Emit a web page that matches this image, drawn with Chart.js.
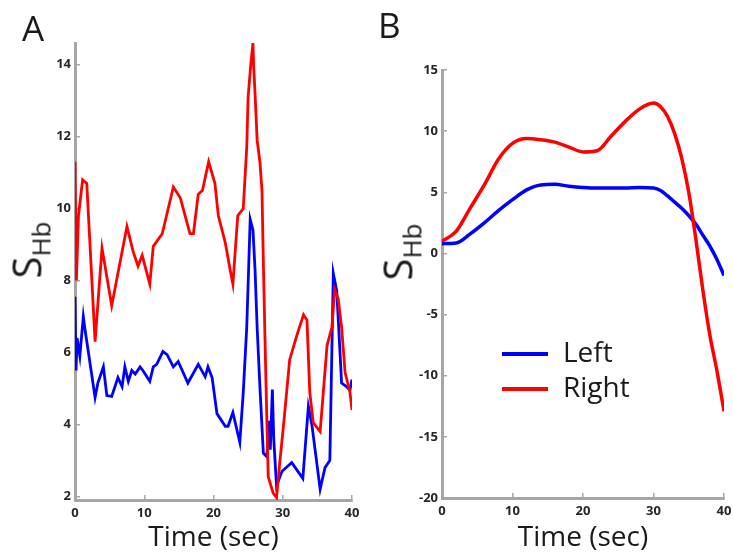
<!DOCTYPE html>
<html>
<head>
<meta charset="utf-8">
<script src="https://cdn.jsdelivr.net/npm/chart.js@4"></script>
<style>
  body { margin: 0; background: #fff; }
  #wrap { position: relative; width: 733px; height: 557px; overflow: hidden; font-family: "Open Sans", sans-serif; color: #1a1a1a; }
  .panel { position: absolute; top: 0; height: 557px; }
  .tag { position: absolute; font-size: 35px; line-height: 1; }
  .ylab { position: absolute; transform: translate(-50%, -50%) rotate(-90deg); white-space: nowrap; font-size: 40px; line-height: 1; }
  .ylab sub { font-size: 26px; vertical-align: -0.35em; }
</style>
</head>
<body>
<div id="wrap">
  <div class="panel" style="left:0; width:366px;"><canvas id="chartA"></canvas></div>
  <div class="panel" style="left:366px; width:367px;"><canvas id="chartB"></canvas></div>
  <div class="tag" style="left:22px; top:10px;">A</div>
  <div class="tag" style="left:378px; top:7px;">B</div>
  <div class="ylab" style="left:30px; top:250px;">S<sub>Hb</sub></div>
  <div class="ylab" style="left:401px; top:252px;">S<sub>Hb</sub></div>
</div>
<script>
// Panel A: raw traces (time in sec, irregular sampling)
const timeLeftA = [0, 0.15, 0.3, 0.7, 1.2, 1.4, 2.9, 3.3, 4.1, 4.6, 5.3, 6.2, 6.8, 7.2, 7.7, 8.2, 8.7, 9.4, 9.8,
  10.8, 11.3, 11.8, 12.7, 13.3, 14.2, 14.9, 16.3, 17.8, 18.8, 19.2, 19.8, 20.5, 21.7, 22.1, 22.8, 23.8, 24.3,
  24.8, 25.3, 25.7, 26.0, 26.3, 26.7, 27.2, 27.7, 28.0, 28.2, 28.5, 28.7, 29.1, 29.9, 31.3, 32.9, 33.7, 34.2,
  35.4, 36.1, 36.8, 37.3, 37.8, 38.5, 39.2, 39.7, 40.0];
const leftA = [7.55, 5.5, 6.4, 5.9, 7.0, 6.7, 4.75, 5.15, 5.6, 4.8, 4.78, 5.3, 5.05, 5.6, 5.2, 5.5, 5.4, 5.6, 5.5,
  5.2, 5.6, 5.67, 6.03, 5.94, 5.6, 5.75, 5.15, 5.67, 5.33, 5.6, 5.3, 4.3, 3.95, 3.95, 4.33, 3.5, 4.9,
  6.7, 9.7, 9.4, 8.3, 6.7, 5.05, 3.2, 3.1, 4.1, 3.3, 4.97, 3.6, 2.3, 2.7, 2.94, 2.5, 4.5, 4.0,
  2.2, 2.8, 3.0, 8.2, 7.7, 5.15, 5.05, 4.95, 5.25];

const timeRightA = [0, 0.2, 0.5, 1.1, 1.7, 2.9, 3.9, 5.3, 7.5, 8.4, 9.1, 9.7, 10.8, 11.3, 12.6, 14.2, 15.2, 16.6,
  17.1, 17.8, 18.4, 19.3, 20.2, 20.7, 21.7, 22.4, 22.8, 23.5, 24.3, 24.5, 24.8, 25.0, 25.4, 25.7, 25.8, 26.0,
  26.3, 26.7, 27.0, 27.2, 27.5, 27.9, 28.6, 29.1, 29.6, 30.1, 31.0, 32.0, 33.0, 33.5, 33.9, 34.4, 35.4, 36.4,
  37.1, 37.5, 38.0, 38.5, 39.0, 39.7, 40.0];
const rightA = [11.3, 8.0, 9.8, 10.8, 10.7, 6.3, 8.9, 7.3, 9.5, 8.8, 8.4, 8.7, 7.9, 8.95, 9.3, 10.6, 10.3, 9.3,
  9.3, 10.4, 10.5, 11.3, 10.7, 9.8, 9.05, 8.3, 7.9, 9.8, 10.0, 10.7, 11.7, 13.1, 14.05, 14.6, 13.95, 13.2,
  11.9, 11.3, 10.5, 8.5, 5.8, 2.55, 2.1, 1.97, 3.0, 3.95, 5.8, 6.45, 7.05, 6.9, 4.9, 4.05, 3.8, 6.2,
  6.7, 7.75, 7.5, 6.7, 5.45, 4.9, 4.4];

// Panel B: averaged responses
const timeB = [0, 2, 4, 6, 8, 10, 12, 14, 16, 18, 20, 22, 24, 26, 28, 30, 31, 32, 33, 34, 35, 36, 37, 38, 39, 40];
const leftB = [0.8, 0.85, 1.6, 2.5, 3.5, 4.4, 5.2, 5.6, 5.65, 5.5, 5.4, 5.35, 5.35, 5.35, 5.4, 5.35, 5.15, 4.7,
  4.2, 3.7, 3.1, 2.4, 1.5, 0.6, -0.5, -1.8];
const rightB = [1.0, 1.8, 3.7, 5.6, 7.7, 9.0, 9.4, 9.3, 9.1, 8.7, 8.3, 8.4, 9.6, 10.8, 11.8, 12.3, 12.0, 11.2,
  9.8, 7.8, 5.0, 1.2, -3.0, -6.7, -9.6, -12.9];

const seriesNames = ['Left', 'Right'];
const seriesColors = ['#0000ff', '#ff0000'];
const xTicks = [0, 10, 20, 30, 40];
const yTicksA = [2, 4, 6, 8, 10, 12, 14];
const yTicksB = [-20, -15, -10, -5, 0, 5, 10, 15];

const axisGrey = '#a6a6a6';
const tickFont = { family: 'Open Sans', size: 13, weight: '700' };
const tickColor = '#262626';

function toPoints(xs, ys) {
  return xs.map((x, i) => ({ x: x, y: ys[i] }));
}

function buildScales(yMin, yMax, yTicks, xHeight) {
  return {
    x: {
      type: 'linear',
      min: 0,
      max: 40,
      afterBuildTicks: s => { s.ticks = xTicks.map(v => ({ value: v })); },
      afterFit: s => {
        s.height = xHeight;
        // let the layout padding alone decide where the plot ends
        s.paddingLeft = 0;
        s.paddingRight = 0;
      },
      border: { color: axisGrey, width: 3 },
      grid: { drawOnChartArea: false, color: axisGrey, lineWidth: 1.5, tickLength: -5 },
      ticks: { font: tickFont, color: tickColor, padding: 10, maxRotation: 0 },
      title: {
        display: true,
        text: 'Time (sec)',
        font: { family: 'Open Sans', size: 28 },
        color: '#1a1a1a',
        padding: 0
      }
    },
    y: {
      type: 'linear',
      min: yMin,
      max: yMax,
      afterBuildTicks: s => { s.ticks = yTicks.map(v => ({ value: v })); },
      afterFit: s => {
        s.width = 30;
        s.paddingTop = 0;
        s.paddingBottom = 0;
      },
      border: { color: axisGrey, width: 3 },
      grid: { drawOnChartArea: false, color: axisGrey, lineWidth: 1.5, tickLength: -5 },
      ticks: { font: tickFont, color: tickColor, padding: 9 }
    }
  };
}

// legend drawn inside the plot area, as in the figure
const insideLegend = {
  id: 'insideLegend',
  afterDatasetsDraw(chart, args, opts) {
    if (!opts.display) return;
    const { ctx, chartArea } = chart;
    const x = chartArea.left + opts.offsetX;
    let y = chartArea.top + opts.offsetY;
    ctx.save();
    ctx.font = '28px "Open Sans"';
    ctx.textBaseline = 'middle';
    seriesNames.forEach(name => {
      const ds = chart.data.datasets.find(d => d.label === name);
      ctx.strokeStyle = ds.borderColor;
      ctx.lineWidth = 4;
      ctx.beginPath();
      ctx.moveTo(x, y);
      ctx.lineTo(x + 46, y);
      ctx.stroke();
      ctx.fillStyle = '#1a1a1a';
      ctx.fillText(name, x + 61, y);
      y += 35;
    });
    ctx.restore();
  }
};

function makeChart(id, leftPts, rightPts, smooth, yMin, yMax, yTicks, pad, xHeight, legend) {
  const line = {
    pointRadius: 0,
    borderWidth: smooth ? 3.5 : 2.8,
    fill: false,
    tension: smooth ? 0.4 : 0,
    cubicInterpolationMode: smooth ? 'monotone' : 'default'
  };
  return new Chart(document.getElementById(id), {
    type: 'line',
    plugins: [insideLegend],
    data: {
      datasets: [
        Object.assign({ label: seriesNames[0], data: leftPts, borderColor: seriesColors[0], order: 1 }, line),
        Object.assign({ label: seriesNames[1], data: rightPts, borderColor: seriesColors[1], order: 0 }, line)
      ]
    },
    options: {
      responsive: true,
      maintainAspectRatio: false,
      animation: false,
      events: [],
      layout: { padding: pad },
      scales: buildScales(yMin, yMax, yTicks, xHeight),
      plugins: {
        legend: { display: false },
        tooltip: { enabled: false },
        insideLegend: { display: legend, offsetX: 60, offsetY: 284 }
      }
    }
  });
}

makeChart('chartA', toPoints(timeLeftA, leftA), toPoints(timeRightA, rightA), false,
  1.9, 14.6, yTicksA, { left: 45, right: 14, top: 43, bottom: 2 }, 55, false);

makeChart('chartB', toPoints(timeB, leftB), toPoints(timeB, rightB), true,
  -20, 15, yTicksB, { left: 46, right: 9, top: 70, bottom: 2 }, 57, true);
</script>
</body>
</html>
